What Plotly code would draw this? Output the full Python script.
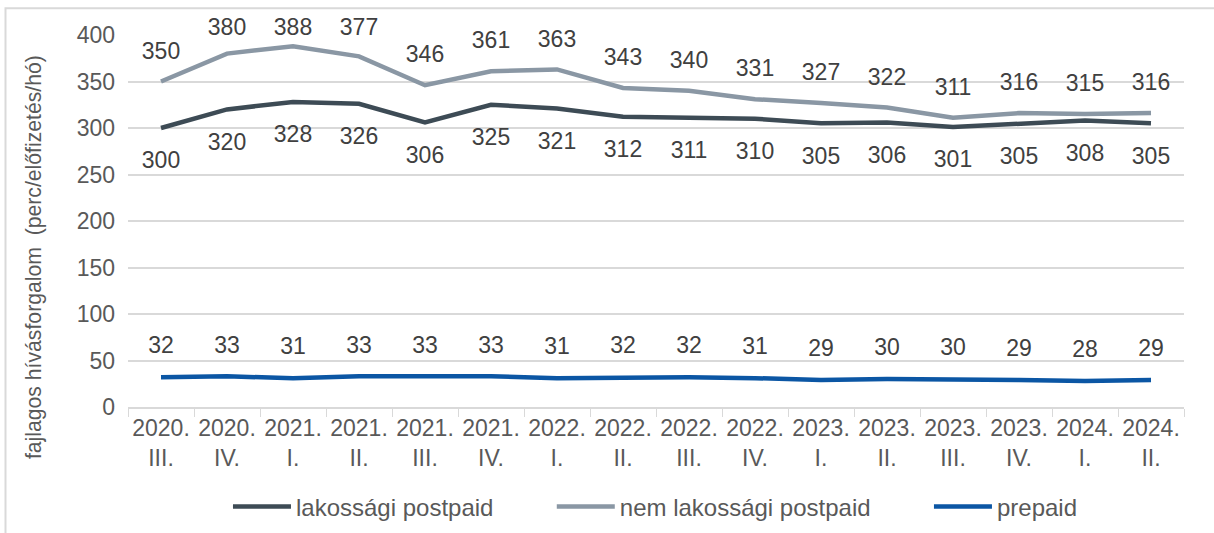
import plotly.graph_objects as go

categories = ["2020.<br>III.", "2020.<br>IV.", "2021.<br>I.", "2021.<br>II.", "2021.<br>III.", "2021.<br>IV.",
              "2022.<br>I.", "2022.<br>II.", "2022.<br>III.", "2022.<br>IV.", "2023.<br>I.", "2023.<br>II.",
              "2023.<br>III.", "2023.<br>IV.", "2024.<br>I.", "2024.<br>II."]
lakossagi = [300, 320, 328, 326, 306, 325, 321, 312, 311, 310, 305, 306, 301, 305, 308, 305]
nem_lakossagi = [350, 380, 388, 377, 346, 361, 363, 343, 340, 331, 327, 322, 311, 316, 315, 316]
prepaid = [32, 33, 31, 33, 33, 33, 31, 32, 32, 31, 29, 30, 30, 29, 28, 29]

y_ticks = [0, 50, 100, 150, 200, 250, 300, 350, 400]

FONT = "Liberation Sans, Arial, sans-serif"
C_LAK = "#3d4b55"
C_NEM = "#8a97a4"
C_PRE = "#0b56a4"
TXT = "#404040"
PAD = "\u00a0" * 8
LABEL_SIZE = 23

W, H = 1214, 533
M_L, M_R, M_T, M_B = 128, 30, 35, 126
Y_MAX = 400
PX_PER_UNIT = (H - M_T - M_B) / Y_MAX
LABEL_MIN_CENTER = 27  # labels are kept inside the chart area (as in Excel)


def marker_size_for(offset, above):
    """Invisible marker size giving a label centre `offset` px from its point."""
    f = LABEL_SIZE
    cap_half = 0.716 * f / 2
    if above:
        r = offset - 0.25 * f - cap_half
    else:
        r = offset - 0.75 * f + cap_half
    return max(2 * (r - 1) * 0.8, 0.5)


def label_sizes(vals, offset, above):
    sizes = []
    for v in vals:
        off = offset
        if above:
            py = M_T + (Y_MAX - v) * PX_PER_UNIT
            off = min(offset, py - LABEL_MIN_CENTER)
        sizes.append(marker_size_for(off, above))
    return sizes


fig = go.Figure()

series = [
    ("lakossági postpaid" + PAD, lakossagi, C_LAK, "bottom center", 32, False),
    ("nem lakossági postpaid" + PAD, nem_lakossagi, C_NEM, "top center", 31, True),
    ("prepaid", prepaid, C_PRE, "top center", 32, True),
]

for name, vals, col, pos, off, above in series:
    fig.add_trace(go.Scatter(
        x=categories, y=vals, name=name, mode="lines",
        line=dict(color=col, width=4.5), hoverinfo="skip"))

for name, vals, col, pos, off, above in series:
    fig.add_trace(go.Scatter(
        x=categories, y=vals, mode="markers+text", showlegend=False, cliponaxis=False,
        marker=dict(size=label_sizes(vals, off, above), color="white", opacity=0,
                    line=dict(width=0)),
        text=[str(v) for v in vals], textposition=pos,
        textfont=dict(family=FONT, size=LABEL_SIZE, color=TXT), hoverinfo="skip"))

fig.update_layout(
    width=W, height=H,
    margin=dict(l=M_L, r=M_R, t=M_T, b=M_B, autoexpand=False),
    paper_bgcolor="white", plot_bgcolor="white",
    font=dict(family=FONT, size=22, color="#595959"),
    showlegend=True,
    legend=dict(orientation="h", x=0.4995, xanchor="center", yref="container", y=1 - 507 / H,
                yanchor="middle",
                font=dict(family=FONT, size=24, color="#595959"), itemwidth=58),
    xaxis=dict(type="category", showgrid=False, showline=True, linecolor="#d9d9d9", linewidth=1.5,
               ticks="outside", tickson="boundaries", ticklen=8, tickcolor="#d9d9d9", automargin=False,
               tickangle=0,
               tickfont=dict(family=FONT, size=23, color="#595959"), range=[-0.5, 15.5]),
    yaxis=dict(range=[0, Y_MAX], tickvals=y_ticks, showgrid=True, gridcolor="#d9d9d9", gridwidth=1.5,
               zeroline=False, showline=False, ticks="", ticklabelstandoff=12, automargin=False,
               tickfont=dict(family=FONT, size=23, color="#595959")),
    annotations=[dict(text="fajlagos hívásforgalom  (perc/előfizetés/hó)", xref="paper", yref="paper",
                      x=-0.089, y=0.403, xanchor="center", yanchor="middle", textangle=-90,
                      showarrow=False, font=dict(family=FONT, size=21.2, color="#595959"))],
    shapes=[
        dict(type="rect", xref="paper", yref="paper", x0=-0.116, x1=1.2, y0=1.072, y1=-0.4,
             line=dict(color="#d9d9d9", width=2), fillcolor="rgba(0,0,0,0)", layer="below"),
    ],
)

fig.write_html("out.html", config={"displayModeBar": False},
               post_script="document.body.style.margin='0';")
